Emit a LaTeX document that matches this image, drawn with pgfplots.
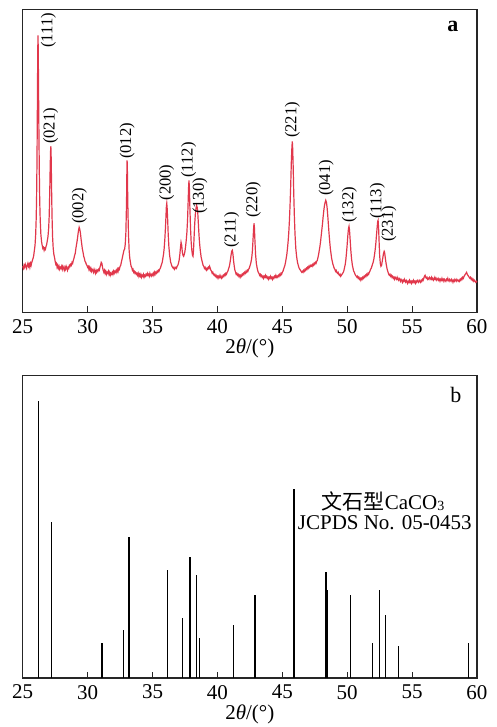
\documentclass[border=0pt]{standalone}
\usepackage{fontspec}
\setmainfont{Liberation Serif}
\newfontfamily\cjk{Noto Sans CJK SC}
\usepackage{pgfplots}
\pgfplotsset{compat=1.18}
\definecolor{xrdred}{RGB}{225,55,75}
\tikzset{hkl/.style={rotate=90, font=\fontsize{8.3}{10}\selectfont, inner sep=0pt}}
\pgfplotsset{
  xrdaxis/.style={
    scale only axis, width=227.15pt,
    xmin=25, xmax=60, ymin=0,
    xtick={25,30,...,60}, ytick=\empty,
    tick align=inside, xtick pos=left,
    major tick length=3pt,
    axis line style={black!85, line width=0.7pt},
    every tick/.style={black!85, line width=0.6pt},
    /pgf/number format/assume math mode=true,
    tick label style={font=\fontsize{10.5}{12}\selectfont},
    label style={font=\fontsize{10.5}{12}\selectfont},
    xlabel={2\textit{θ}/(°)},
    xlabel style={yshift=4pt},
    clip=false,
  },
}
\begin{document}
\begin{tikzpicture}
\path[use as bounding box] (0,0) rectangle (248.5pt,-363.5pt);
% ---------------- (a) measured pattern ----------------
\begin{axis}[xrdaxis, height=151.5pt, ymax=303, at={(11.35pt,-156.15pt)}, anchor=south west]
\addplot[xrdred, line width=0.6pt] coordinates {
(25.00,46) (25.05,44) (25.10,47) (25.15,45) (25.20,48) (25.25,46) (25.30,44) (25.35,47) (25.40,49) (25.45,46)
(25.50,48) (25.55,45) (25.60,49) (25.65,47) (25.70,50) (25.75,52) (25.80,54) (25.85,57) (25.90,62) (25.95,67)
(26.00,78) (26.04,94) (26.07,115) (26.10,150) (26.12,185) (26.14,225) (26.16,262) (26.18,277) (26.20,260) (26.22,225)
(26.25,180) (26.28,140) (26.31,112) (26.35,92) (26.40,78) (26.45,71) (26.50,67) (26.55,64) (26.60,65) (26.65,62)
(26.70,64) (26.75,63) (26.80,66) (26.85,68) (26.90,72) (26.95,76) (27.00,84) (27.04,96) (27.08,118) (27.11,140)
(27.14,158) (27.16,166) (27.18,164) (27.20,150) (27.23,120) (27.26,96) (27.30,76) (27.35,64) (27.40,58) (27.45,55)
(27.50,51) (27.55,48) (27.60,49) (27.65,45) (27.70,47) (27.75,44) (27.80,46) (27.85,43) (27.90,45) (27.95,44)
(28.00,46) (28.05,43) (28.10,46) (28.15,44) (28.20,42) (28.25,45) (28.30,43) (28.35,46) (28.40,44) (28.45,42)
(28.50,45) (28.55,44) (28.60,47) (28.65,46) (28.70,48) (28.75,47) (28.80,50) (28.85,49) (28.90,52) (28.95,54)
(29.00,57) (29.05,59) (29.10,64) (29.15,68) (29.20,72) (29.25,77) (29.30,82) (29.35,85) (29.40,83) (29.45,79)
(29.50,73) (29.55,68) (29.60,63) (29.65,60) (29.70,56) (29.75,54) (29.80,51) (29.85,50) (29.90,48) (29.95,47)
(30.00,45) (30.05,46) (30.10,43) (30.15,45) (30.20,42) (30.25,44) (30.30,41) (30.35,43) (30.40,42) (30.45,40)
(30.50,43) (30.55,41) (30.60,39) (30.65,42) (30.70,40) (30.75,42) (30.80,41) (30.85,43) (30.90,42) (30.95,45)
(31.00,47) (31.05,50) (31.10,49) (31.15,45) (31.20,42) (31.25,40) (31.30,42) (31.35,39) (31.40,41) (31.45,38)
(31.50,40) (31.55,39) (31.60,41) (31.65,38) (31.70,40) (31.75,37) (31.80,39) (31.85,38) (31.90,40) (31.95,38)
(32.00,41) (32.05,39) (32.10,41) (32.15,40) (32.20,42) (32.25,40) (32.30,43) (32.35,41) (32.40,44) (32.45,43)
(32.50,46) (32.55,47) (32.60,50) (32.65,53) (32.70,56) (32.75,59) (32.80,62) (32.85,63) (32.90,68) (32.95,80)
(33.00,110) (33.02,135) (33.04,152) (33.06,148) (33.08,125) (33.11,100) (33.15,78) (33.20,62) (33.25,54) (33.30,50)
(33.35,46) (33.40,45) (33.45,42) (33.50,43) (33.55,40) (33.60,41) (33.65,39) (33.70,40) (33.75,38) (33.80,39)
(33.85,37) (33.90,39) (33.95,36) (34.00,38) (34.05,36) (34.10,38) (34.15,35) (34.20,37) (34.25,36) (34.30,38)
(34.35,35) (34.40,37) (34.45,36) (34.50,38) (34.55,37) (34.60,39) (34.65,37) (34.70,38) (34.75,36) (34.80,39)
(34.85,37) (34.90,36) (34.95,38) (35.00,37) (35.05,39) (35.10,37) (35.15,40) (35.20,38) (35.25,40) (35.30,39)
(35.35,41) (35.40,40) (35.45,42) (35.50,41) (35.55,43) (35.60,44) (35.65,46) (35.70,48) (35.75,50) (35.80,54)
(35.85,58) (35.90,64) (35.95,73) (36.00,85) (36.04,97) (36.07,106) (36.10,109) (36.13,104) (36.17,92) (36.21,78)
(36.26,66) (36.32,57) (36.40,50) (36.45,48) (36.50,46) (36.55,45) (36.60,44) (36.65,45) (36.70,43) (36.75,44)
(36.80,45) (36.85,44) (36.90,46) (36.95,47) (37.00,49) (37.05,52) (37.10,57) (37.15,64) (37.20,70) (37.25,67)
(37.30,60) (37.35,57) (37.40,56) (37.45,58) (37.50,61) (37.55,66) (37.60,72) (37.65,80) (37.70,92) (37.74,108)
(37.78,125) (37.81,132) (37.84,125) (37.88,105) (37.93,84) (37.98,70) (38.03,62) (38.08,57) (38.12,56) (38.16,62)
(38.20,74) (38.25,88) (38.30,98) (38.35,104) (38.40,107) (38.44,105) (38.48,101) (38.52,92) (38.57,80) (38.62,70)
(38.68,62) (38.75,55) (38.82,51) (38.90,47) (38.95,46) (39.00,44) (39.05,45) (39.10,43) (39.15,42) (39.20,44)
(39.25,43) (39.30,45) (39.35,44) (39.40,46) (39.45,44) (39.50,42) (39.55,41) (39.60,39) (39.65,40) (39.70,38)
(39.75,37) (39.80,38) (39.85,36) (39.90,37) (39.95,35) (40.00,36) (40.05,34) (40.10,36) (40.15,35) (40.20,37)
(40.25,35) (40.30,34) (40.35,36) (40.40,35) (40.45,37) (40.50,36) (40.55,38) (40.60,37) (40.65,39) (40.70,38)
(40.75,40) (40.80,41) (40.85,43) (40.90,45) (40.95,48) (41.00,52) (41.05,57) (41.10,61) (41.15,62) (41.20,58)
(41.25,51) (41.30,46) (41.35,42) (41.40,40) (41.45,38) (41.50,39) (41.55,37) (41.60,38) (41.65,36) (41.70,37)
(41.75,35) (41.80,37) (41.85,36) (41.90,38) (41.95,37) (42.00,39) (42.05,38) (42.10,40) (42.15,39) (42.20,41)
(42.25,40) (42.30,42) (42.35,41) (42.40,43) (42.45,44) (42.50,46) (42.55,48) (42.60,51) (42.65,55) (42.70,62)
(42.75,74) (42.79,84) (42.82,89) (42.85,85) (42.89,72) (42.94,58) (43.00,49) (43.05,45) (43.10,42) (43.15,40)
(43.20,39) (43.25,37) (43.30,38) (43.35,36) (43.40,37) (43.45,35) (43.50,36) (43.55,34) (43.60,36) (43.65,35)
(43.70,37) (43.75,35) (43.80,36) (43.85,34) (43.90,35) (43.95,33) (44.00,35) (44.05,34) (44.10,36) (44.15,34)
(44.20,35) (44.25,33) (44.30,35) (44.35,34) (44.40,36) (44.45,35) (44.50,37) (44.55,35) (44.60,36) (44.65,35)
(44.70,37) (44.75,36) (44.80,38) (44.85,37) (44.90,39) (44.95,38) (45.00,40) (45.05,41) (45.10,43) (45.15,45)
(45.20,47) (45.25,50) (45.30,54) (45.35,58) (45.40,64) (45.45,71) (45.50,80) (45.55,92) (45.60,108) (45.65,128)
(45.70,152) (45.74,165) (45.77,171) (45.80,164) (45.84,145) (45.88,120) (45.93,96) (45.98,78) (46.04,64) (46.10,56)
(46.17,50) (46.25,46) (46.30,44) (46.35,43) (46.40,42) (46.45,41) (46.50,40) (46.55,41) (46.60,40) (46.65,42)
(46.70,41) (46.75,43) (46.80,42) (46.85,44) (46.90,43) (46.95,45) (47.00,44) (47.05,46) (47.10,45) (47.15,47)
(47.20,46) (47.25,47) (47.30,46) (47.35,48) (47.40,47) (47.45,49) (47.50,48) (47.55,50) (47.60,49) (47.65,51)
(47.70,52) (47.75,55) (47.80,58) (47.85,62) (47.90,66) (47.95,71) (48.00,77) (48.05,83) (48.10,89) (48.15,96)
(48.20,102) (48.25,107) (48.30,110) (48.35,112) (48.40,110) (48.45,105) (48.50,97) (48.55,88) (48.60,79) (48.65,71)
(48.70,64) (48.75,59) (48.80,54) (48.85,51) (48.90,48) (48.95,46) (49.00,44) (49.05,43) (49.10,41) (49.15,42)
(49.20,40) (49.25,39) (49.30,40) (49.35,38) (49.40,37) (49.45,38) (49.50,36) (49.55,37) (49.60,38) (49.65,39)
(49.70,40) (49.75,42) (49.80,45) (49.85,48) (49.90,53) (49.95,60) (50.00,68) (50.05,77) (50.10,84) (50.14,86)
(50.18,82) (50.23,72) (50.28,62) (50.33,54) (50.40,47) (50.45,44) (50.50,41) (50.55,40) (50.60,38) (50.65,37)
(50.70,36) (50.75,35) (50.80,36) (50.85,34) (50.90,35) (50.95,33) (51.00,34) (51.05,32) (51.10,34) (51.15,33)
(51.20,35) (51.25,34) (51.30,36) (51.35,35) (51.40,37) (51.45,36) (51.50,38) (51.55,37) (51.60,39) (51.65,38)
(51.70,40) (51.75,41) (51.80,43) (51.85,44) (51.90,46) (51.95,48) (52.00,50) (52.05,53) (52.10,57) (52.15,62)
(52.20,68) (52.25,76) (52.30,84) (52.35,91) (52.38,92) (52.42,84) (52.46,70) (52.50,57) (52.55,49) (52.60,46)
(52.65,47) (52.70,51) (52.75,55) (52.80,59) (52.85,61) (52.88,60) (52.92,56) (52.97,51) (53.02,47) (53.08,43)
(53.15,40) (53.20,38) (53.25,37) (53.30,38) (53.35,36) (53.40,37) (53.45,35) (53.50,36) (53.55,34) (53.60,35)
(53.65,33) (53.70,35) (53.75,34) (53.80,33) (53.85,35) (53.90,33) (53.95,32) (54.00,34) (54.05,33) (54.10,31)
(54.15,33) (54.20,32) (54.25,30) (54.30,32) (54.35,31) (54.40,33) (54.45,31) (54.50,30) (54.55,32) (54.60,31)
(54.65,29) (54.70,31) (54.75,30) (54.80,32) (54.85,30) (54.90,31) (54.95,29) (55.00,31) (55.05,30) (55.10,32)
(55.15,30) (55.20,31) (55.25,29) (55.30,31) (55.35,30) (55.40,32) (55.45,31) (55.50,30) (55.55,32) (55.60,31)
(55.65,30) (55.70,32) (55.75,31) (55.80,33) (55.85,32) (55.90,34) (55.95,36) (56.00,37) (56.05,35) (56.10,34)
(56.15,35) (56.20,33) (56.25,34) (56.30,33) (56.35,35) (56.40,34) (56.45,33) (56.50,35) (56.55,33) (56.60,34)
(56.65,32) (56.70,33) (56.75,35) (56.80,33) (56.85,34) (56.90,32) (56.95,33) (57.00,34) (57.05,32) (57.10,33)
(57.15,31) (57.20,33) (57.25,32) (57.30,34) (57.35,32) (57.40,33) (57.45,31) (57.50,33) (57.55,32) (57.60,31)
(57.65,33) (57.70,32) (57.75,34) (57.80,32) (57.85,31) (57.90,33) (57.95,32) (58.00,31) (58.05,33) (58.10,32)
(58.15,30) (58.20,32) (58.25,31) (58.30,33) (58.35,32) (58.40,31) (58.45,33) (58.50,32) (58.55,31) (58.60,32)
(58.65,31) (58.70,33) (58.75,32) (58.80,34) (58.85,33) (58.90,35) (58.95,34) (59.00,36) (59.05,37) (59.10,38)
(59.15,39) (59.20,40) (59.25,38) (59.30,37) (59.35,36) (59.40,35) (59.45,34) (59.50,35) (59.55,33) (59.60,34)
(59.65,32) (59.70,33) (59.75,31) (59.80,32) (59.85,31) (59.90,30) (59.95,31) (60.00,30)
};
\node[hkl] at (axis cs:26.97,281.8) {(111)};
\node[hkl] at (axis cs:27.16,186.3) {(021)};
\node[hkl] at (axis cs:29.36,106.3) {(002)};
\node[hkl] at (axis cs:33.04,171.3) {(012)};
\node[hkl] at (axis cs:36.09,129.8) {(200)};
\node[hkl] at (axis cs:37.79,152.3) {(112)};
\node[hkl] at (axis cs:38.66,116.3) {(130)};
\node[hkl] at (axis cs:41.10,82.3) {(211)};
\node[hkl] at (axis cs:42.77,112.3) {(220)};
\node[hkl] at (axis cs:45.77,192.3) {(221)};
\node[hkl] at (axis cs:48.37,134.3) {(041)};
\node[hkl] at (axis cs:50.16,107.3) {(132)};
\node[hkl] at (axis cs:52.32,111.3) {(113)};
\node[hkl] at (axis cs:53.22,88.3) {(231)};
\node[font=\fontsize{11}{12}\selectfont\bfseries] at (axis cs:58.15,286.3) {a};
\end{axis}
% ---------------- (b) JCPDS reference sticks ----------------
\begin{axis}[xrdaxis, height=151.15pt, ymax=302.3, at={(11.35pt,-339pt)}, anchor=south west]
\addplot[ycomb, black, line width=0.7pt, no marks] coordinates {
(26.24,277) (27.23,156) (31.11,35) (32.78,48) (33.19,141) (36.17,108) (37.33,60)
(37.89,121) (38.40,103) (38.64,40) (41.22,53) (42.90,83) (45.90,189) (48.37,106)
(48.47,88) (50.24,83) (51.96,35) (52.47,88) (52.94,63) (53.94,32) (59.33,35)
};
\node[font=\fontsize{11}{12}\selectfont] at (axis cs:58.38,283) {b};
\node[font=\fontsize{10.5}{12}\selectfont, inner sep=0pt] at (axis cs:52.76,177) {{\cjk 文石型}CaCO{\fontsize{7}{8}\selectfont\raisebox{-0.25ex}{3}}};
\node[font=\fontsize{10.5}{12}\selectfont, inner sep=0pt] at (axis cs:52.9,155) {JCPDS No. 05-0453};
\end{axis}
\end{tikzpicture}
\end{document}
